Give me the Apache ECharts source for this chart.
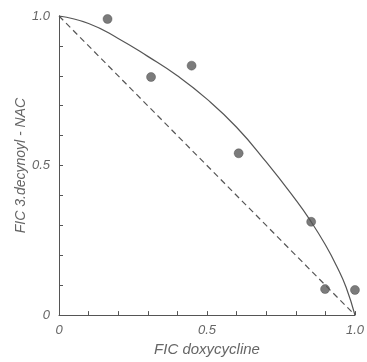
<!DOCTYPE html>
<html>
<head>
<meta charset="utf-8">
<script src="https://cdn.jsdelivr.net/npm/echarts@6/dist/echarts.min.js"></script>
<style>
html,body{margin:0;padding:0;background:#fff;}
#chart{width:367px;height:362px;}
</style>
</head>
<body>
<div id="chart"></div>
<script>
// Observed data points (FIC doxycycline, FIC 3.decynoyl-NAC)
const pointX = [0.164, 0.311, 0.448, 0.607, 0.852, 0.899, 1.0];
const pointY = [0.99, 0.796, 0.834, 0.541, 0.312, 0.087, 0.084];
// Fitted isobologram curve
const curveX = [0, 0.1, 0.2, 0.3, 0.4, 0.5, 0.6, 0.7, 0.8, 0.85, 0.9, 0.94, 0.97, 1.0];
const curveY = [1, 0.975, 0.925, 0.865, 0.8, 0.722, 0.628, 0.512, 0.385, 0.315, 0.235, 0.16, 0.093, 0];
// Additivity line
const lineX = [0, 1];
const lineY = [1, 0];
// Tick labels shown
const tickLabels = {0: '0', 5: '0.5', 10: '1.0'};
const xName = 'FIC doxycycline';
const yName = 'FIC 3.decynoyl - NAC';

const pair = (xs, ys) => xs.map((x, i) => [x, ys[i]]);
const labelFmt = v => { const k = Math.round(v * 10); return tickLabels[k] !== undefined ? tickLabels[k] : ''; };
const font = '"Liberation Sans", "DejaVu Sans", sans-serif';
const gray = '#555';

const chart = echarts.init(document.getElementById('chart'), null, {renderer: 'canvas'});
const axisCommon = {
  type: 'value', min: 0, max: 1, interval: 0.1,
  splitLine: {show: false},
  axisLine: {show: true, lineStyle: {color: gray, width: 1}},
  axisTick: {show: true, inside: true, length: 4, lineStyle: {color: gray, width: 1}},
  axisLabel: {formatter: labelFmt, color: '#666', fontFamily: font, fontStyle: 'italic', fontSize: 13, margin: 9, showMinLabel: true, showMaxLabel: true},
  nameLocation: 'middle',
  nameTextStyle: {color: '#666', fontFamily: font, fontStyle: 'italic', fontSize: 14}
};
chart.setOption({
  animation: false,
  backgroundColor: '#fff',
  grid: {left: 59, right: 6, top: 16, bottom: 45},
  xAxis: Object.assign({}, axisCommon, {name: xName, nameGap: 25,
    nameTextStyle: Object.assign({}, axisCommon.nameTextStyle, {fontSize: 15})}),
  yAxis: Object.assign({}, axisCommon, {name: yName, nameGap: 31, nameMoveOverlap: false}),
  series: [
    {type: 'line', data: pair(lineX, lineY), symbol: 'none', clip: false,
     lineStyle: {color: gray, width: 1.2, type: [6, 4]}},
    {type: 'line', data: pair(curveX, curveY), symbol: 'none', smooth: 0.5, clip: false,
     lineStyle: {color: gray, width: 1.2}},
    {type: 'scatter', data: pair(pointX, pointY), symbolSize: 9, clip: false,
     itemStyle: {color: '#5a5a5a', borderColor: '#444', borderWidth: 0.5}}
  ]
});
</script>
</body>
</html>
